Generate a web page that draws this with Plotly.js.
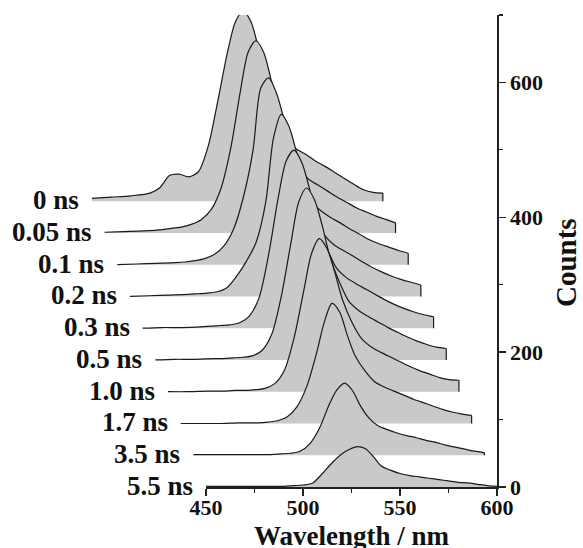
<!DOCTYPE html>
<html>
<head>
<meta charset="utf-8">
<script src="https://cdn.plot.ly/plotly-3.0.1.min.js"></script>
<style>html,body{margin:0;padding:0;background:#fff;}#chart{width:583px;height:548px;}</style>
</head>
<body>
<div id="chart"></div>
<script>
// Wavelength grid (nm) shared by every spectrum (own frame of each spectrum)
const wavelengths = [450, 460, 470, 480, 485, 490, 495, 500, 505, 510, 515, 520, 524, 528, 532, 536, 540, 545, 550, 555, 560, 565, 570, 575, 580, 585, 590, 595, 600];

// Delay labels, back (earliest) to front (latest)
const delays = ["0 ns", "0.05 ns", "0.1 ns", "0.2 ns", "0.3 ns", "0.5 ns", "1.0 ns", "1.7 ns", "3.5 ns", "5.5 ns"];

// Counts (above each spectrum's own baseline)
const counts_0ns   = [4, 6, 8, 12, 20, 38, 40, 36, 44, 82, 150, 222, 266, 282, 266, 225, 172, 128, 96, 78, 70, 60, 52, 43, 34, 25, 17, 13, 12];
const counts_005ns = [1, 2, 3, 5, 7, 9, 13, 20, 35, 66, 125, 210, 268, 285, 268, 225, 172, 128, 97, 80, 71, 62, 53, 45, 37, 31, 25, 20, 15];
const counts_01ns  = [0, 1, 2, 3, 4, 6, 9, 15, 28, 53, 100, 170, 262, 277, 255, 215, 165, 124, 94, 80, 70, 62, 53, 45, 37, 31, 26, 21, 17];
const counts_02ns  = [0, 1, 2, 3, 4, 5, 7, 13, 30, 52, 80, 140, 235, 270, 252, 212, 162, 122, 92, 77, 68, 60, 51, 43, 36, 30, 25, 21, 17];
const counts_03ns  = [0, 1, 1, 2, 3, 4, 5, 8, 18, 45, 110, 195, 248, 264, 246, 207, 158, 119, 89, 75, 66, 58, 50, 42, 35, 29, 24, 20, 17];
const counts_05ns  = [0, 1, 1, 2, 2, 3, 4, 6, 14, 38, 95, 175, 235, 255, 238, 200, 153, 115, 86, 73, 64, 56, 48, 41, 34, 28, 23, 19, 17];
const counts_10ns  = [0, 0, 1, 1, 2, 2, 3, 5, 12, 32, 80, 150, 205, 227, 212, 177, 136, 102, 78, 66, 58, 51, 44, 37, 31, 26, 21, 18, 17];
const counts_17ns  = [0, 0, 0, 1, 1, 1, 2, 4, 10, 25, 55, 104, 150, 178, 165, 130, 100, 78, 62, 54, 48, 42, 36, 31, 26, 21, 17, 14, 12];
const counts_35ns  = [1, 1, 1, 1, 1, 1, 2, 3, 6, 17, 40, 75, 97, 107, 96, 74, 57, 44, 38, 33, 29, 26, 22, 19, 15, 12, 9, 6, 4];
const counts_55ns  = [1, 1, 1, 1, 1, 1, 2, 3, 6, 20, 36, 49, 56, 60, 57, 46, 32, 25, 20, 17, 15, 13, 11, 9, 7, 6, 4, 2, 1];

const spectra = [counts_0ns, counts_005ns, counts_01ns, counts_02ns, counts_03ns,
                 counts_05ns, counts_10ns, counts_17ns, counts_35ns, counts_55ns];

// Waterfall offsets per step (towards the back)
const X_STEP = 6.54;   // nm shift to the left
const Y_STEP = 47.1;   // counts shift upwards

const FILL = 'rgb(201,201,201)';
const LINE = '#1a1a1a';
const SERIF = '"Liberation Serif", "Times New Roman", serif';

const traces = [];
const annotations = [];
const n = spectra.length;
spectra.forEach((c, i) => {
  const k = n - 1 - i;
  const xs = wavelengths.map(w => w - k * X_STEP);
  const base = k * Y_STEP;
  const ys = c.map(v => v + base);
  const x0 = xs[0], x1 = xs[xs.length - 1];
  // invisible baseline, the spectrum fills down to it
  traces.push({
    type: 'scatter', mode: 'lines', xaxis: 'x', yaxis: 'y',
    x: [x0, x1], y: [base, base],
    line: {width: 0, color: 'rgba(0,0,0,0)'}, hoverinfo: 'skip', showlegend: false
  });
  // spectrum curve with grey fill
  traces.push({
    type: 'scatter', mode: 'lines', xaxis: 'x', yaxis: 'y',
    x: xs, y: ys, fill: 'tonexty', fillcolor: FILL,
    line: {color: LINE, width: 1.2, shape: 'spline', smoothing: 0.8},
    hoverinfo: 'skip', showlegend: false
  });
  // vertical end edge
  traces.push({
    type: 'scatter', mode: 'lines', xaxis: 'x', yaxis: 'y',
    x: [x1, x1], y: [ys[ys.length - 1], base],
    line: {color: LINE, width: 1.2}, hoverinfo: 'skip', showlegend: false
  });
  annotations.push({
    xref: 'x', yref: 'y', x: x0, y: base, text: delays[i],
    showarrow: false, xanchor: 'right', yanchor: 'middle', xshift: -11, yshift: 1,
    font: {family: SERIF, size: 27, color: '#111', weight: 'bold'}
  });
});

// empty trace so that the displayed wavelength axis (x2) is created
traces.push({type: 'scatter', mode: 'lines', x: [], y: [], xaxis: 'x2', yaxis: 'y', hoverinfo: 'skip', showlegend: false});

const XMIN = 385, XMAX = 600;
const axisStart = (450 - XMIN) / (XMAX - XMIN);

annotations.push({
  xref: 'paper', yref: 'paper', x: 1.166, y: 0.475, text: 'Counts', textangle: -90,
  showarrow: false, xanchor: 'center', yanchor: 'middle',
  font: {family: SERIF, size: 29, color: '#111', weight: 'bold'}
});
annotations.push({
  xref: 'paper', yref: 'paper', x: (axisStart + 1) / 2, y: -0.104, text: 'Wavelength / nm',
  showarrow: false, xanchor: 'center', yanchor: 'middle',
  font: {family: SERIF, size: 27, color: '#111', weight: 'bold'}
});

const tickFont = {family: SERIF, size: 22, color: '#111', weight: 'bold'};

const layout = {
  width: 583, height: 548,
  margin: {l: 80, r: 86, t: 15, b: 61},
  paper_bgcolor: '#fff', plot_bgcolor: 'rgba(0,0,0,0)',
  showlegend: false,
  xaxis: {domain: [0, 1], range: [XMIN, XMAX], visible: false, fixedrange: true},
  xaxis2: {
    domain: [axisStart, 1], range: [450, 600], anchor: 'y',
    showline: true, linecolor: '#222', linewidth: 1.5, mirror: false,
    ticks: 'outside', ticklen: 7, tickwidth: 1.5, tickcolor: '#222',
    ticklabelstandoff: -7,
    dtick: 50, tick0: 450, showgrid: false, zeroline: false,
    minor: {dtick: 25, tick0: 450, ticks: 'outside', ticklen: 4, tickwidth: 1.2, tickcolor: '#222', showgrid: false},
    tickfont: tickFont
  },
  yaxis: {
    domain: [0, 1], range: [0, 700], side: 'right', anchor: 'x',
    showline: true, linecolor: '#222', linewidth: 1.5,
    ticks: 'outside', ticklen: 7, tickwidth: 1.5, tickcolor: '#222',
    dtick: 200, tick0: 0, showgrid: false, zeroline: false,
    minor: {dtick: 100, tick0: 0, ticks: 'outside', ticklen: 4, tickwidth: 1.2, tickcolor: '#222', showgrid: false},
    tickfont: tickFont
  },
  annotations: annotations
};

Plotly.newPlot('chart', traces, layout, {staticPlot: true, displayModeBar: false});
</script>
</body>
</html>
